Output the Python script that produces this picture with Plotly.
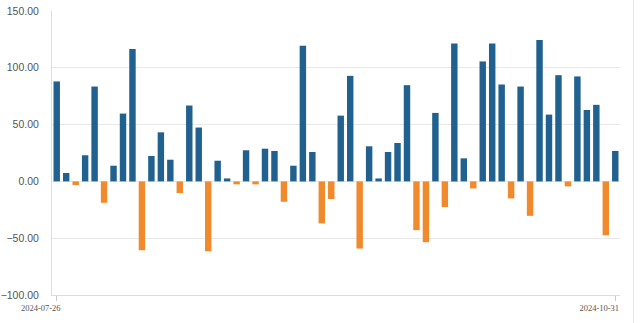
import plotly.graph_objects as go

first_date = "2024-07-26"
last_date = "2024-10-31"

values = [
    88, 7.4, -3.2, 23, 83.5, -18.8, 13.8, 59.7, 116.5, -60.6,
    22.4, 43.2, 19.1, -10.3, 66.8, 47.4, -61.5, 18.2, 2.6, -2.6,
    27.4, -2.6, 28.8, 26.8, -17.9, 13.8, 119.4, 25.9, -37, -15.5,
    57.9, 92.9, -59.1, 30.9, 2.6, 25.9, 33.8, 84.7, -42.9, -53.5,
    60.3, -22.6, 121.5, 20.3, -6.2, 105.6, 121.5, 85.3, -15, 83.5,
    -30.3, 124.4, 58.8, 93.5, -4.4, 92.4, 62.9, 67.4, -47.4, 26.8,
]
x_idx = list(range(len(values)))

y_ticks = [-100, -50, 0, 50, 100, 150]
y_tick_labels = ["\u2212100.00", "\u221250.00", "0.00", "50.00", "100.00", "150.00"]

BLUE = "#21618f"
ORANGE = "#f08a2c"
colors = [BLUE if v >= 0 else ORANGE for v in values]

fig = go.Figure(go.Bar(x=x_idx, y=values, marker=dict(color=colors, line=dict(width=0)), width=0.68))

fig.update_layout(
    width=640, height=323,
    margin=dict(l=52, r=20, t=11, b=28, autoexpand=False),
    plot_bgcolor="white", paper_bgcolor="white",
    showlegend=False,
)
fig.update_xaxes(
    automargin=False,
    range=[-0.5, len(values) - 0.5],
    tickmode="array", tickvals=[0, len(values) - 1], ticktext=[first_date, last_date],
    ticks="outside", ticklen=5, tickcolor="#cccccc",
    showgrid=False, showline=True, linecolor="#dddddd", linewidth=1,
    tickfont=dict(family="Liberation Serif", size=8.5, color="#555555"),
    ticklabelshift=-16, ticklabelstandoff=0,
    zeroline=False,
)
fig.update_yaxes(
    automargin=False,
    range=[-100, 150],
    tickmode="array", tickvals=y_ticks, ticktext=y_tick_labels,
    showgrid=True, gridcolor="#e8e8e8", gridwidth=1,
    showline=True, linecolor="#dddddd", linewidth=1,
    zeroline=True, zerolinecolor="#e8e8e8", zerolinewidth=1,
    tickfont=dict(family="Liberation Sans", size=10.5, color="#555555"),
    ticks="", ticklabelstandoff=10,
)
fig.add_shape(type="line", xref="paper", yref="paper", x0=1.0237, x1=1.0237, y0=-0.1, y1=1.04,
              line=dict(color="#e6e6e6", width=1))
fig.write_html("out.html")
